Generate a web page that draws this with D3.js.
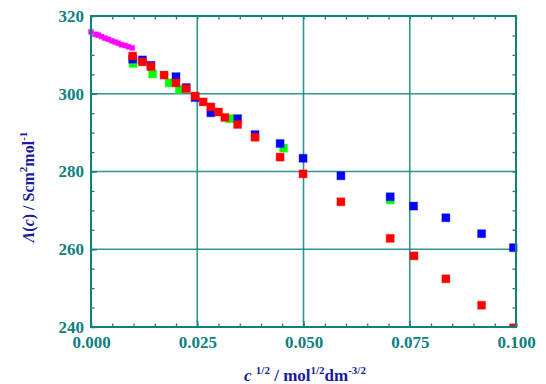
<!DOCTYPE html>
<html><head><meta charset="utf-8">
<script src="https://cdn.jsdelivr.net/npm/d3@7"></script>
<style>body{margin:0;background:#fff}svg{display:block}</style>
</head><body>
<svg id="chart" width="546" height="384"></svg>
<script>
// ---- data ----
const xTickValues = [0, 0.025, 0.05, 0.075, 0.1];
const yTickValues = [240, 260, 280, 300, 320];
const xGridValues = [0.025, 0.05, 0.075];
const yGridValues = [260, 280, 300];

const magentaC = [0.0000, 0.0012, 0.0017, 0.0025, 0.0033, 0.0041, 0.0049, 0.0057, 0.0064, 0.0072, 0.0080, 0.0088, 0.0097];
const magentaV = [315.9, 315.3, 315.1, 314.7, 314.3, 314.0, 313.6, 313.3, 313.0, 312.6, 312.4, 312.1, 311.8];

const greenC = [0.0099, 0.0145, 0.0184, 0.0208, 0.0326, 0.0453, 0.0704];
const greenV = [307.8, 305.1, 302.8, 301.1, 293.6, 286.0, 272.7];

const blueC = [0.0098, 0.0121, 0.0141, 0.0200, 0.0224, 0.0245, 0.0282, 0.0345, 0.0386, 0.0445, 0.0499, 0.0588, 0.0704, 0.0759, 0.0835, 0.0919, 0.0994];
const blueV = [308.9, 308.7, 307.3, 304.4, 301.6, 299.0, 295.1, 293.6, 289.5, 287.2, 283.4, 278.9, 273.5, 271.1, 268.1, 264.0, 260.4];

const redC = [0.0098, 0.0121, 0.0141, 0.0172, 0.0200, 0.0224, 0.0245, 0.0264, 0.0282, 0.0300, 0.0315, 0.0345, 0.0386, 0.0445, 0.0499, 0.0588, 0.0704, 0.0760, 0.0835, 0.0919, 0.0994];
const redV = [309.7, 308.2, 307.0, 304.8, 302.8, 301.3, 299.4, 297.9, 296.6, 295.3, 293.9, 292.1, 288.8, 283.7, 279.4, 272.2, 262.8, 258.3, 252.4, 245.6, 239.8];

// ---- layout ----
const margin = {left: 91, top: 16, right: 30, bottom: 57};
const W = 546, H = 384;
const width = W - margin.left - margin.right;   // 425
const height = H - margin.top - margin.bottom;  // 311

const teal = "#0e8080";
const titleCol = "#1a1a9c";
const font = "'Liberation Serif','Times New Roman',serif";

const svg = d3.select("#chart");
const g = svg.append("g").attr("transform", `translate(${margin.left},${margin.top})`);

const x = d3.scaleLinear().domain([0, 0.1]).range([0, width]);
const y = d3.scaleLinear().domain([240, 320]).range([height, 0]);

// grid lines
g.append("g").selectAll("line.gx").data(xGridValues).join("line")
  .attr("x1", d => x(d)).attr("x2", d => x(d)).attr("y1", 0).attr("y2", height)
  .attr("stroke", teal).attr("stroke-width", 1.6).attr("stroke-opacity", 0.85);
g.append("g").selectAll("line.gy").data(yGridValues).join("line")
  .attr("y1", d => y(d)).attr("y2", d => y(d)).attr("x1", 0).attr("x2", width)
  .attr("stroke", teal).attr("stroke-width", 1.6).attr("stroke-opacity", 0.85);

// minor ticks
const xMinor = d3.range(0, 0.1001, 0.005);
const yMinor = d3.range(240, 320.1, 5);
function styleAxis(sel) {
  sel.select(".domain").remove();
  sel.selectAll(".tick line").attr("stroke", teal).attr("stroke-width", 1.3);
  sel.selectAll("text").attr("fill", teal).attr("font-family", font)
     .attr("font-weight", "bold").attr("font-size", 17);
}
g.append("g").attr("transform", `translate(0,${height})`)
  .call(d3.axisBottom(x).tickValues(xMinor).tickFormat("").tickSizeInner(-3.5).tickSizeOuter(0)).call(styleAxis);
g.append("g")
  .call(d3.axisTop(x).tickValues(xMinor).tickFormat("").tickSizeInner(-3.5).tickSizeOuter(0)).call(styleAxis);
g.append("g")
  .call(d3.axisLeft(y).tickValues(yMinor).tickFormat("").tickSizeInner(-3.5).tickSizeOuter(0)).call(styleAxis);
g.append("g").attr("transform", `translate(${width},0)`)
  .call(d3.axisRight(y).tickValues(yMinor).tickFormat("").tickSizeInner(-3.5).tickSizeOuter(0)).call(styleAxis);

// major axes with labels
g.append("g").attr("transform", `translate(0,${height})`)
  .call(d3.axisBottom(x).tickValues(xTickValues).tickFormat(d3.format(".3f")).tickSizeInner(-6).tickSizeOuter(0).tickPadding(9))
  .call(styleAxis);
g.append("g")
  .call(d3.axisLeft(y).tickValues(yTickValues).tickFormat(d3.format("d")).tickSizeInner(-6).tickSizeOuter(0).tickPadding(7))
  .call(styleAxis);

// clip
svg.append("defs").append("clipPath").attr("id", "clip")
  .append("rect").attr("x", -5).attr("y", -5).attr("width", width + 6.5).attr("height", height + 5);

const plot = g.append("g").attr("clip-path", "url(#clip)");
function drawSeries(cs, vs, color, size) {
  const data = cs.map((c, i) => ({c, v: vs[i]}));
  plot.append("g").selectAll("rect").data(data).join("rect")
    .attr("x", d => x(d.c) - size / 2).attr("y", d => y(d.v) - size / 2)
    .attr("width", size).attr("height", size)
    .attr("fill", color).attr("stroke", color).attr("stroke-opacity", 0.3).attr("stroke-width", 1.2);
}
drawSeries(magentaC, magentaV, "#ff00ff", 5);
drawSeries(greenC, greenV, "#00ff00", 8);
drawSeries(blueC, blueV, "#0000ff", 8);
drawSeries(redC, redV, "#ff0000", 8);

// frame
g.append("rect").attr("x", 0).attr("y", 0).attr("width", width).attr("height", height)
  .attr("fill", "none").attr("stroke", teal).attr("stroke-width", 2);

// axis titles
const yt = svg.append("text")
  .attr("transform", "translate(34,187) rotate(-90)")
  .attr("text-anchor", "middle")
  .attr("font-family", font).attr("font-weight", "bold").attr("font-size", 16)
  .attr("fill", titleCol);
yt.append("tspan").attr("font-style", "italic").text("Λ");
yt.append("tspan").text("(");
yt.append("tspan").attr("font-style", "italic").text("c");
yt.append("tspan").text(") / Scm");
yt.append("tspan").attr("font-size", 11).attr("dy", -7).text("2");
yt.append("tspan").attr("dy", 7).text("mol");
yt.append("tspan").attr("font-size", 11).attr("dy", -7).text("-1");

const xt = svg.append("text")
  .attr("x", 305).attr("y", 381)
  .attr("text-anchor", "middle")
  .attr("font-family", font).attr("font-weight", "bold").attr("font-size", 17)
  .attr("fill", titleCol);
xt.append("tspan").attr("font-style", "italic").text("c ");
xt.append("tspan").attr("font-size", 11).attr("dy", -7).text("1/2");
xt.append("tspan").attr("dy", 7).text(" / mol");
xt.append("tspan").attr("font-size", 11).attr("dy", -7).text("1/2");
xt.append("tspan").attr("dy", 7).text("dm");
xt.append("tspan").attr("font-size", 11).attr("dy", -7).text("-3/2");
</script>
</body></html>
